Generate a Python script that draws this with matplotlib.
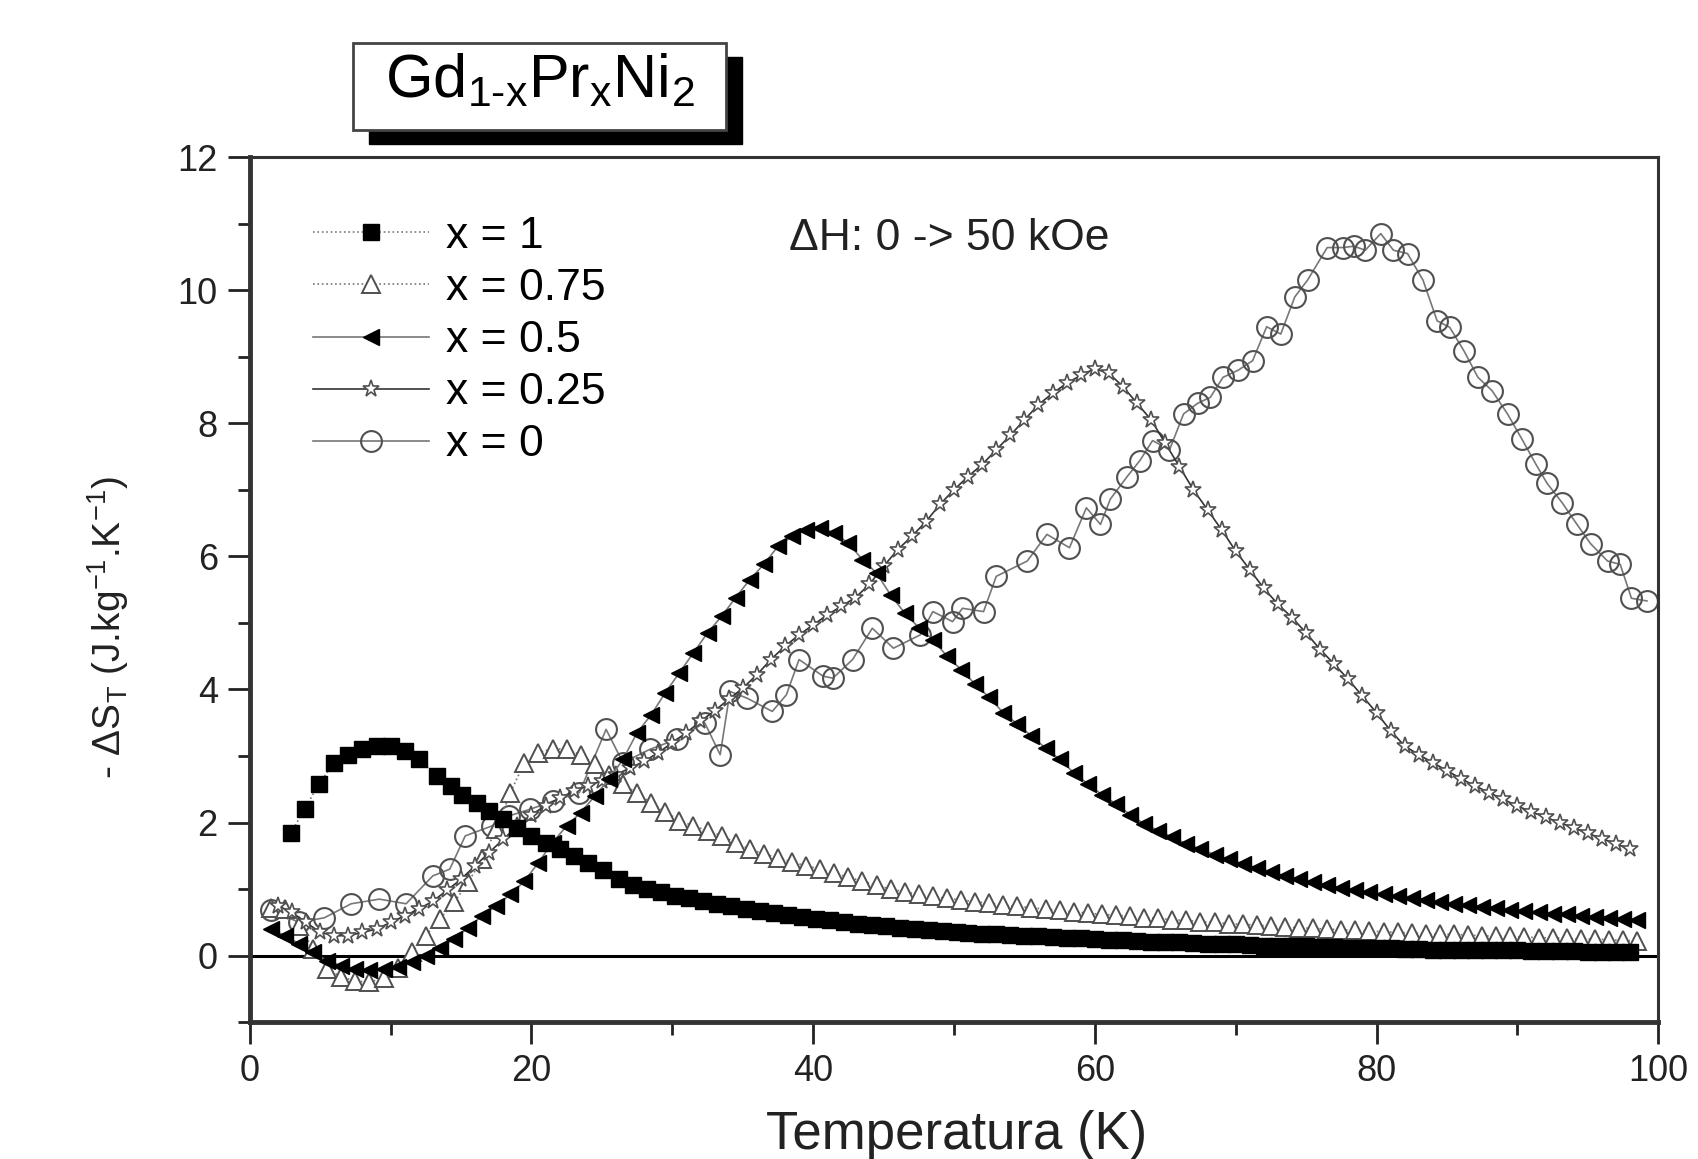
import matplotlib
matplotlib.use("Agg")
import matplotlib.pyplot as plt
from matplotlib.patches import Rectangle
from matplotlib.ticker import MultipleLocator

plt.rcParams['font.family'] = ['Liberation Sans', 'DejaVu Sans']
plt.rcParams['mathtext.fontset'] = 'custom'
plt.rcParams['mathtext.rm'] = 'Liberation Sans'
plt.rcParams['mathtext.it'] = 'Liberation Sans'
plt.rcParams['mathtext.default'] = 'regular'

# ---------------- data ----------------
# x = 1 (filled squares)
T_x1 = [2.9, 3.9, 4.9, 6.0, 7.0, 8.0, 9.0, 10.0, 11.0, 12.0, 13.3, 14.3, 15.1, 16.1,
        17.0, 18.0, 19.0, 20.0, 21.0, 22.0, 23.0, 24.0, 25.1, 26.2, 27.2, 28.2, 29.2,
        30.2, 31.2, 32.2, 33.2, 34.2, 35.2, 36.2, 37.2, 38.2, 39.2, 40.2, 41.2, 42.2,
        43.2, 44.2, 45.2, 46.2, 47.2, 48.2, 49.2, 50.2, 51, 52, 53, 54, 55, 56, 57, 58,
        59, 60, 61, 62, 63, 64, 65, 66, 67, 68, 69, 70, 71, 72, 73, 74, 75, 76, 77, 78,
        79, 80, 81, 82, 83, 84, 85, 86, 87, 88, 89, 90, 91, 92, 93, 94, 95, 96, 97, 98]
S_x1 = [1.84, 2.20, 2.58, 2.90, 3.02, 3.10, 3.15, 3.15, 3.08, 2.95, 2.70, 2.55, 2.42, 2.30,
        2.18, 2.05, 1.92, 1.80, 1.70, 1.60, 1.50, 1.40, 1.28, 1.15, 1.06, 1.00, 0.95,
        0.90, 0.86, 0.82, 0.78, 0.74, 0.70, 0.67, 0.64, 0.61, 0.58, 0.55, 0.53, 0.50,
        0.48, 0.46, 0.44, 0.42, 0.40, 0.38, 0.37, 0.35, 0.34, 0.33, 0.32, 0.31, 0.30, 0.29,
        0.28, 0.27, 0.26, 0.25, 0.24, 0.23, 0.22, 0.21, 0.21, 0.20, 0.19, 0.18, 0.18, 0.17,
        0.16, 0.15, 0.15, 0.14, 0.14, 0.13, 0.13, 0.12, 0.12, 0.11, 0.11, 0.10, 0.10, 0.09,
        0.09, 0.09, 0.08, 0.08, 0.08, 0.08, 0.07, 0.07, 0.07, 0.07, 0.06, 0.06, 0.06, 0.06]

# x = 0.75 (open triangles)
T_x075 = [1.5, 2.5, 3.5, 4.5, 5.5, 6.5, 7.5, 8.5, 9.5, 10.5, 11.5, 12.5, 13.5, 14.5, 15.5,
          16.5, 17.5, 18.5, 19.5, 20.5, 21.5, 22.5, 23.5, 24.5, 25.5, 26.5, 27.5, 28.5,
          29.5, 30.5, 31.5, 32.5, 33.5, 34.5, 35.5, 36.5, 37.5, 38.5, 39.5, 40.5, 41.5,
          42.5, 43.5, 44.5, 45.5, 46.5, 47.5, 48.5, 49.5, 50.5, 51.5, 52.5, 53.5, 54.5,
          55.5, 56.5, 57.5, 58.5, 59.5, 60.5, 61.5, 62.5, 63.5, 64.5, 65.5, 66.5, 67.5,
          68.5, 69.5, 70.5, 71.5, 72.5, 73.5, 74.5, 75.5, 76.5, 77.5, 78.5, 79.5, 80.5,
          81.5, 82.5, 83.5, 84.5, 85.5, 86.5, 87.5, 88.5, 89.5, 90.5, 91.5, 92.5, 93.5,
          94.5, 95.5, 96.5, 97.5, 98.5]
S_x075 = [0.72, 0.70, 0.45, 0.10, -0.20, -0.32, -0.38, -0.40, -0.33, -0.18, 0.05, 0.30,
          0.55, 0.80, 1.10, 1.45, 1.90, 2.45, 2.90, 3.05, 3.11, 3.10, 3.02, 2.88, 2.72,
          2.58, 2.44, 2.30, 2.16, 2.03, 1.95, 1.88, 1.80, 1.70, 1.60, 1.53, 1.47, 1.41,
          1.35, 1.30, 1.24, 1.18, 1.12, 1.06, 1.00, 0.96, 0.92, 0.89, 0.86, 0.84, 0.81,
          0.79, 0.76, 0.74, 0.72, 0.70, 0.68, 0.66, 0.64, 0.62, 0.61, 0.59, 0.57, 0.56,
          0.54, 0.53, 0.51, 0.50, 0.48, 0.47, 0.46, 0.44, 0.43, 0.42, 0.41, 0.40, 0.39,
          0.38, 0.37, 0.36, 0.35, 0.34, 0.33, 0.32, 0.32, 0.31, 0.30, 0.29, 0.29, 0.28,
          0.27, 0.27, 0.26, 0.25, 0.25, 0.24, 0.23, 0.22]

# x = 0.5 (filled left triangles)
T_x05 = list(T_x075)
S_x05 = [0.40, 0.30, 0.18, 0.05, -0.08, -0.15, -0.20, -0.22, -0.20, -0.17, -0.10, 0.00,
         0.12, 0.25, 0.42, 0.60, 0.75, 0.92, 1.12, 1.40, 1.70, 1.95, 2.15, 2.40, 2.65,
         2.95, 3.35, 3.62, 3.95, 4.25, 4.55, 4.85, 5.10, 5.38, 5.65, 5.88, 6.15, 6.30,
         6.40, 6.43, 6.35, 6.20, 5.95, 5.75, 5.42, 5.15, 4.93, 4.75, 4.50, 4.30, 4.08,
         3.88, 3.65, 3.48, 3.30, 3.12, 2.95, 2.75, 2.58, 2.42, 2.28, 2.12, 1.98, 1.88,
         1.78, 1.68, 1.60, 1.52, 1.45, 1.38, 1.32, 1.26, 1.20, 1.15, 1.10, 1.06, 1.02,
         0.98, 0.95, 0.92, 0.89, 0.86, 0.83, 0.80, 0.78, 0.76, 0.73, 0.71, 0.69, 0.67,
         0.65, 0.63, 0.62, 0.60, 0.58, 0.57, 0.55, 0.54]

# x = 0.25 (open stars)
T_x025 = [2, 3, 4, 5, 6, 7, 8, 9, 10, 11, 12, 13, 14, 15, 16, 17, 18, 19, 20, 21, 22, 23,
          24, 25, 26, 27, 28, 29, 30, 31, 32, 33, 34, 35, 36, 37, 38, 39, 40, 41, 42, 43,
          44, 45, 46, 47, 48, 49, 50, 51, 52, 53, 54, 55, 56, 57, 58, 59, 60, 61, 62, 63,
          64, 65, 66, 67, 68, 69, 70, 71, 72, 73, 74, 75, 76, 77, 78, 79, 80, 81, 82, 83,
          84, 85, 86, 87, 88, 89, 90, 91, 92, 93, 94, 95, 96, 97, 98]
S_x025 = [0.75, 0.65, 0.50, 0.35, 0.30, 0.30, 0.35, 0.40, 0.50, 0.60, 0.70, 0.82, 0.98,
          1.15, 1.35, 1.55, 1.75, 1.95, 2.12, 2.25, 2.37, 2.47, 2.55, 2.63, 2.72, 2.82,
          2.92, 3.05, 3.20, 3.35, 3.52, 3.68, 3.85, 4.02, 4.22, 4.45, 4.65, 4.82, 4.97,
          5.12, 5.25, 5.38, 5.58, 5.85, 6.10, 6.30, 6.52, 6.78, 7.00, 7.20, 7.38, 7.60,
          7.82, 8.05, 8.28, 8.45, 8.60, 8.72, 8.82, 8.75, 8.55, 8.30, 8.05, 7.70, 7.35,
          7.00, 6.70, 6.40, 6.08, 5.80, 5.52, 5.28, 5.08, 4.85, 4.60, 4.38, 4.15, 3.90,
          3.65, 3.38, 3.15, 3.02, 2.90, 2.78, 2.66, 2.55, 2.45, 2.35, 2.25, 2.16, 2.08,
          2.00, 1.92, 1.84, 1.76, 1.68, 1.60]

# x = 0 (open circles)
T_x0 = [1.5, 3.5, 5.3, 7.2, 9.2, 11.1, 13.0, 14.2, 15.3, 17.2, 18.4, 19.9, 21.5, 23.4,
        25.3, 26.5, 28.4, 30.3, 32.3, 33.4, 34.1, 35.3, 37.1, 38.1, 39.0, 40.7, 41.4,
        42.8, 44.2, 45.7, 47.6, 48.5, 49.9, 50.6, 52.1, 53.0, 55.2, 56.6, 58.2, 59.4,
        60.4, 61.1, 62.3, 63.2, 64.1, 65.3, 66.3, 67.3, 68.2, 69.1, 70.2, 71.2, 72.2,
        73.2, 74.2, 75.1, 76.5, 77.6, 78.4, 79.2, 80.3, 81.2, 82.2, 83.3, 84.3, 85.2,
        86.2, 87.2, 88.2, 89.3, 90.3, 91.3, 92.1, 93.2, 94.2, 95.2, 96.4, 97.3, 98.1, 99.2]
S_x0 = [0.69, 0.50, 0.57, 0.78, 0.85, 0.78, 1.20, 1.30, 1.80, 1.95, 2.10, 2.20, 2.32, 2.45,
        3.40, 2.90, 3.10, 3.25, 3.50, 3.02, 3.97, 3.87, 3.67, 3.92, 4.45, 4.20, 4.17,
        4.45, 4.92, 4.62, 4.82, 5.17, 5.02, 5.22, 5.17, 5.70, 5.93, 6.33, 6.13, 6.73,
        6.48, 6.86, 7.20, 7.44, 7.74, 7.60, 8.14, 8.30, 8.39, 8.69, 8.80, 8.94, 9.45,
        9.34, 9.90, 10.15, 10.64, 10.64, 10.66, 10.60, 10.85, 10.60, 10.55, 10.15, 9.54,
        9.44, 9.09, 8.69, 8.49, 8.14, 7.77, 7.39, 7.10, 6.80, 6.49, 6.19, 5.93, 5.88,
        5.37, 5.33]

labels = ['x = 1', 'x = 0.75', 'x = 0.5', 'x = 0.25', 'x = 0']
x_ticks = [0, 20, 40, 60, 80, 100]
y_ticks = [0, 2, 4, 6, 8, 10, 12]

# ---------------- figure ----------------
fig = plt.figure(figsize=(16.99, 11.59), dpi=100)
ax = fig.add_axes([0.147, 0.118, 0.829, 0.7465])

line_col = '#777777'
edge_col = '#505050'

ax.axhline(0, color='black', lw=2.2, zorder=1)

h1, = ax.plot(T_x1, S_x1, ls=':', color=line_col, lw=1.2, marker='s', ms=11.5,
              mfc='black', mec='black', label=labels[0], zorder=6)
h2, = ax.plot(T_x075, S_x075, ls=':', color=line_col, lw=1.2, marker='^', ms=13.5,
              mfc='white', mec=edge_col, mew=1.4, label=labels[1], zorder=3)
h3, = ax.plot(T_x05, S_x05, ls='-', color=line_col, lw=1.2, marker='<', ms=12,
              mfc='black', mec='black', label=labels[2], zorder=5)
h4, = ax.plot(T_x025, S_x025, ls='-', color='#333333', lw=1.2, marker='*', ms=12.5,
              mfc='white', mec=edge_col, mew=1.2, label=labels[3], zorder=4)
h5, = ax.plot(T_x0, S_x0, ls='-', color=line_col, lw=1.2, marker='o', ms=15,
              mfc='none', mec=edge_col, mew=1.5, label=labels[4], zorder=2)

ax.set_xlim(0, 100)
ax.set_ylim(-1, 12)
ax.set_xticks(x_ticks)
ax.set_yticks(y_ticks)
ax.xaxis.set_minor_locator(MultipleLocator(10))
ax.yaxis.set_minor_locator(MultipleLocator(1))
ax.tick_params(which='major', direction='out', length=16, width=2, labelsize=26,
               pad=7, colors='#222222', top=False, right=False)
ax.tick_params(which='minor', direction='out', length=9, width=2, colors='#222222',
               top=False, right=False)
for s in ['left', 'bottom']:
    ax.spines[s].set_linewidth(3.5)
    ax.spines[s].set_color('#333333')
for s in ['top', 'right']:
    ax.spines[s].set_linewidth(2.2)
    ax.spines[s].set_color('#333333')

leg = ax.legend(handles=[h1, h2, h3, h4, h5], loc='upper left',
                bbox_to_anchor=(0.045, 0.932), frameon=False, fontsize=32,
                handlelength=2.6, handletextpad=0.4, labelspacing=0.25,
                borderpad=0.0, numpoints=1, borderaxespad=0)

ax.text(0.383, 0.906, 'ΔH: 0 -> 50 kOe', transform=ax.transAxes, fontsize=32,
        ha='left', va='center', color='#222222')

fig.text(0.563, 1 - 1135 / 1159, 'Temperatura (K)', fontsize=38, ha='center',
         va='center', color='#222222')
fig.text(108 / 1699, 1 - 628 / 1159, r'- ΔS$_T$ (J.kg$^{-1}$.K$^{-1}$)', fontsize=28,
         rotation=90, ha='center', va='center', color='#222222')

# title box with drop shadow
bx, by, bw, bh = 353 / 1699, 1 - 130 / 1159, 373 / 1699, 87 / 1159
fig.add_artist(Rectangle((bx + 16 / 1699, by - 14 / 1159), bw, bh,
                         transform=fig.transFigure, facecolor='black',
                         edgecolor='black', zorder=1))
fig.add_artist(Rectangle((bx, by), bw, bh, transform=fig.transFigure,
                         facecolor='white', edgecolor='#444444', lw=2, zorder=2))
fig.text(bx + bw / 2, by + bh / 2 + 0.004, r'Gd$_{1\text{-}x}$Pr$_x$Ni$_2$', fontsize=44,
         ha='center', va='center', color='black', zorder=3)

fig.savefig('out.png', dpi=100)
